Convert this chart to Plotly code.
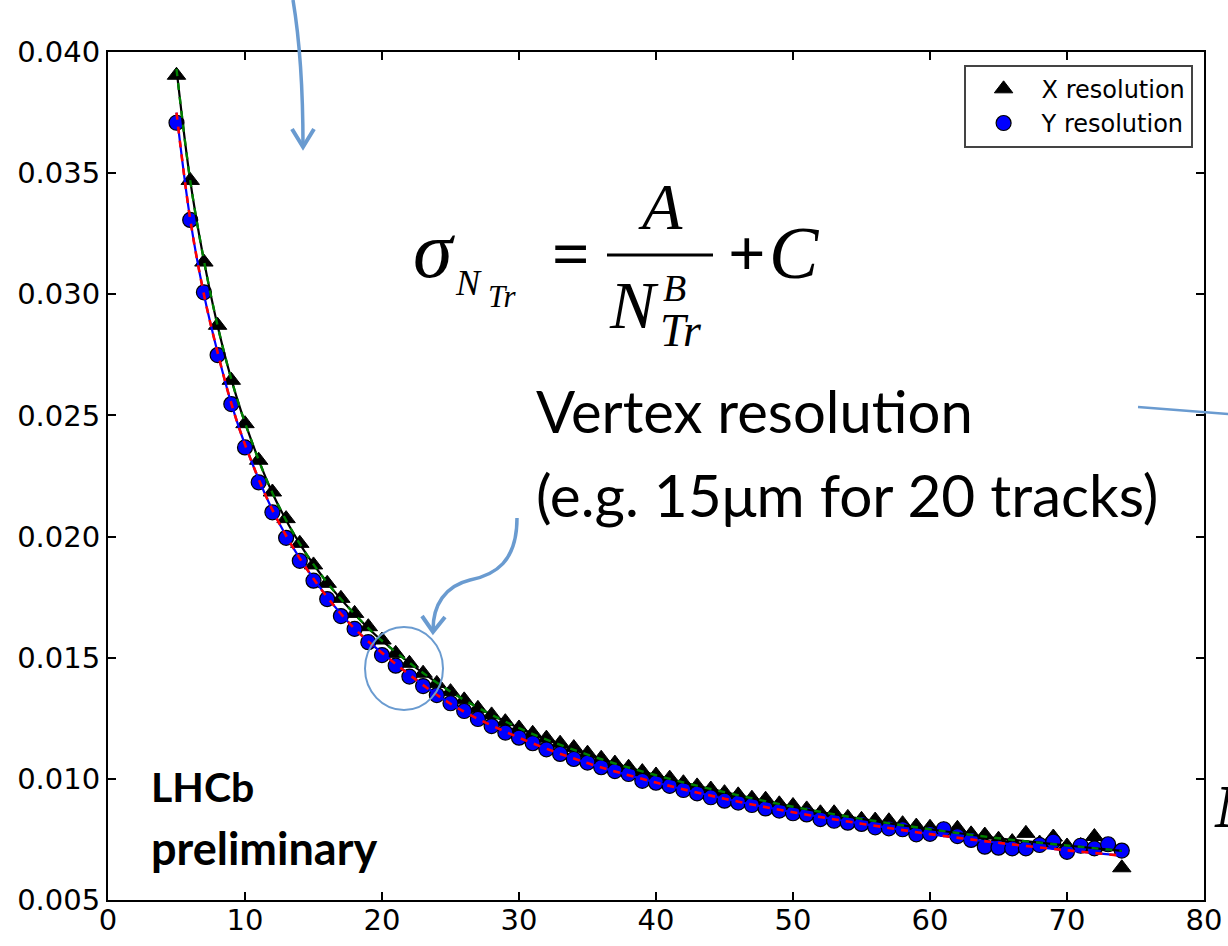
import plotly.graph_objects as go

# ---------------- data ----------------
n_tracks = list(range(5, 75))

x_res = [0.03904, 0.03470, 0.03133, 0.02872, 0.02645, 0.02466, 0.02315, 0.02184, 0.02074, 0.01972,
         0.01883, 0.01807, 0.01745, 0.01683, 0.01628, 0.01573, 0.01518, 0.01477, 0.01436, 0.01394,
         0.01360, 0.01326, 0.01291, 0.01264, 0.01236, 0.01210, 0.01188, 0.01168, 0.01147, 0.01129,
         0.01106, 0.01085, 0.01065, 0.01048, 0.01030, 0.01016, 0.01003, 0.00984, 0.00971, 0.00958,
         0.00943, 0.00934, 0.00920, 0.00916, 0.00897, 0.00890, 0.00876, 0.00860, 0.00860, 0.00841,
         0.00833, 0.00830, 0.00827, 0.00815, 0.00805, 0.00800, 0.00790, 0.00796, 0.00773, 0.00768,
         0.00751, 0.00741, 0.00775, 0.00735, 0.00760, 0.00723, 0.00725, 0.00762, 0.00720, 0.00633]

y_res = [0.03708, 0.03307, 0.03008, 0.02749, 0.02547, 0.02368, 0.02224, 0.02100, 0.01995, 0.01900,
         0.01818, 0.01742, 0.01672, 0.01619, 0.01564, 0.01511, 0.01467, 0.01422, 0.01383, 0.01346,
         0.01312, 0.01280, 0.01247, 0.01218, 0.01191, 0.01170, 0.01147, 0.01122, 0.01103, 0.01082,
         0.01067, 0.01048, 0.01032, 0.01020, 0.00992, 0.00984, 0.00971, 0.00954, 0.00940, 0.00924,
         0.00910, 0.00902, 0.00892, 0.00878, 0.00869, 0.00858, 0.00853, 0.00834, 0.00827, 0.00819,
         0.00814, 0.00800, 0.00796, 0.00792, 0.00771, 0.00773, 0.00792, 0.00764, 0.00748, 0.00720,
         0.00716, 0.00713, 0.00713, 0.00727, 0.00741, 0.00699, 0.00724, 0.00713, 0.00730, 0.00704]

fit_n = [5, 6, 7, 8, 9, 10, 12, 14, 16, 18, 20, 25, 30, 35, 40, 45, 50, 55, 60, 65, 70, 74]
fit_x = [0.0393, 0.0347, 0.0314, 0.0287, 0.0265, 0.0247, 0.0218, 0.0197, 0.0181, 0.0168, 0.0157,
         0.0136, 0.0121, 0.01100, 0.01015, 0.00945, 0.00885, 0.00835, 0.00792, 0.00755, 0.00725, 0.00703]
fit_y = [0.0375, 0.0331, 0.0300, 0.0276, 0.0255, 0.0238, 0.0211, 0.0191, 0.0175, 0.0162, 0.0152,
         0.0131, 0.0117, 0.01065, 0.00985, 0.00918, 0.00862, 0.00815, 0.00772, 0.00736, 0.00705, 0.00683]

x_ticks = [0, 10, 20, 30, 40, 50, 60, 70, 80]
y_ticks = [0.005, 0.010, 0.015, 0.020, 0.025, 0.030, 0.035, 0.040]

# ---------------- layout geometry ----------------
W, H = 1228, 946
L, R, T, B = 108, 24, 52, 46
PW, PH = W - L - R, H - T - B


def px(x):
    return (x - L) / PW


def py(y):
    return (H - B - y) / PH


fig = go.Figure()

fig.add_trace(go.Scatter(
    x=n_tracks, y=x_res, mode="markers", name="X resolution", legendgroup="a",
    marker=dict(symbol="triangle-up", size=16, color="black", line=dict(color="black", width=1))))
fig.add_trace(go.Scatter(
    x=n_tracks, y=y_res, mode="markers", name="Y resolution", legendgroup="b",
    marker=dict(symbol="circle", size=15, color="#0000ff", line=dict(color="black", width=1.2))))

fig.add_trace(go.Scatter(x=fit_n, y=fit_x, mode="lines", showlegend=False,
                         line=dict(color="black", width=2.2, shape="spline")))
fig.add_trace(go.Scatter(x=fit_n, y=fit_x, mode="lines", showlegend=False,
                         line=dict(color="#008000", width=2.4, shape="spline", dash="7px,7px")))
fig.add_trace(go.Scatter(x=fit_n, y=fit_y, mode="lines", showlegend=False,
                         line=dict(color="#0000ff", width=2.2, shape="spline")))
fig.add_trace(go.Scatter(x=fit_n, y=fit_y, mode="lines", showlegend=False,
                         line=dict(color="#ff0000", width=2.6, shape="spline", dash="7px,7px")))

axis_common = dict(showgrid=False, zeroline=False, showline=True, linecolor="black", linewidth=2,
                   mirror="allticks", ticks="inside", ticklen=8, tickwidth=1.5, tickcolor="black",
                   automargin=False,
                   tickfont=dict(family="DejaVu Sans", size=29, color="black"))

fig.update_xaxes(range=[0, 80], tickvals=x_ticks, ticktext=[str(v) for v in x_ticks],
                 ticklabelstandoff=-7, **axis_common)
fig.update_yaxes(range=[0.005, 0.040], tickvals=y_ticks, ticktext=["%.3f" % v for v in y_ticks],
                 ticklabelstandoff=0, **axis_common)

BLUE = "#6a9bd0"
shapes = [
    # arrow from the top
    dict(type="path", xref="paper", yref="paper",
         path=f"M {px(293)},{py(0)} Q {px(303)},{py(60)} {px(303)},{py(146)}",
         line=dict(color=BLUE, width=3.5)),
    dict(type="path", xref="paper", yref="paper",
         path=f"M {px(292)},{py(129)} L {px(303)},{py(147)} L {px(314)},{py(129)}",
         line=dict(color=BLUE, width=4)),
    # curved arrow to the circle
    dict(type="path", xref="paper", yref="paper",
         path=(f"M {px(517)},{py(518)} C {px(517)},{py(562)} {px(495)},{py(575)} {px(470)},{py(580)} "
               f"C {px(445)},{py(586)} {px(433)},{py(605)} {px(433)},{py(630)}"),
         line=dict(color=BLUE, width=3.5)),
    dict(type="path", xref="paper", yref="paper",
         path=f"M {px(422)},{py(616)} L {px(433)},{py(632)} L {px(445)},{py(617)}",
         line=dict(color=BLUE, width=4)),
    # circle
    dict(type="circle", xref="paper", yref="paper",
         x0=px(365), x1=px(443), y0=py(627), y1=py(710),
         line=dict(color=BLUE, width=2)),
    # line to the right
    dict(type="line", xref="paper", yref="paper",
         x0=px(1138), y0=py(407), x1=px(1240), y1=py(415),
         line=dict(color=BLUE, width=2.5)),
    # fraction bar
    dict(type="line", xref="paper", yref="paper",
         x0=px(607), y0=py(255), x1=px(713), y1=py(255),
         line=dict(color="black", width=3)),
]

SERIF = "Liberation Serif"


def ann(text, x, y, size, family=SERIF, xanchor="left", yanchor="middle", color="black"):
    return dict(text=text, x=px(x), y=py(y), xref="paper", yref="paper", showarrow=False,
                xanchor=xanchor, yanchor=yanchor, font=dict(family=family, size=size, color=color),
                borderpad=0)


annotations = [
    ann("<i>σ</i>", 412, 250, 80),
    ann("<i>N</i>", 454, 283, 36),
    ann("<i>Tr</i>", 487, 297, 31),
    ann("<b>=</b>", 551, 254, 66),
    ann("<i>A</i>", 660, 207, 66, xanchor="center"),
    ann("<i>N</i>", 608, 305, 68),
    ann("<i>B</i>", 662, 288, 38),
    ann("<i>Tr</i>", 659, 330, 46),
    ann("<b>+</b>", 727, 254, 66),
    ann("<i>C</i>", 768, 253, 74),
    ann("Vertex resolution", 535, 411, 58, family="Lato"),
    ann("(e.g. 15μm for 20 tracks)", 535, 494, 58.5, family="Lato"),
    ann("<b>LHCb</b>", 150, 786, 41, family="Lato"),
    ann("<b>preliminary</b>", 150, 848, 45, family="Lato"),
    ann("<b><i>N</i></b>", 1213, 806, 62),
]

fig.update_layout(
    width=W, height=H,
    margin=dict(l=L, r=R, t=T, b=B, autoexpand=False),
    paper_bgcolor="white", plot_bgcolor="white",
    shapes=shapes, annotations=annotations,
    legend=dict(x=0.9896, y=0.985, xanchor="right", yanchor="top",
                bgcolor="white", bordercolor="#444444", borderwidth=2,
                font=dict(family="DejaVu Sans", size=24, color="black"),
                itemwidth=66, tracegroupgap=0),
    showlegend=True,
)

fig.write_html("out.html")
